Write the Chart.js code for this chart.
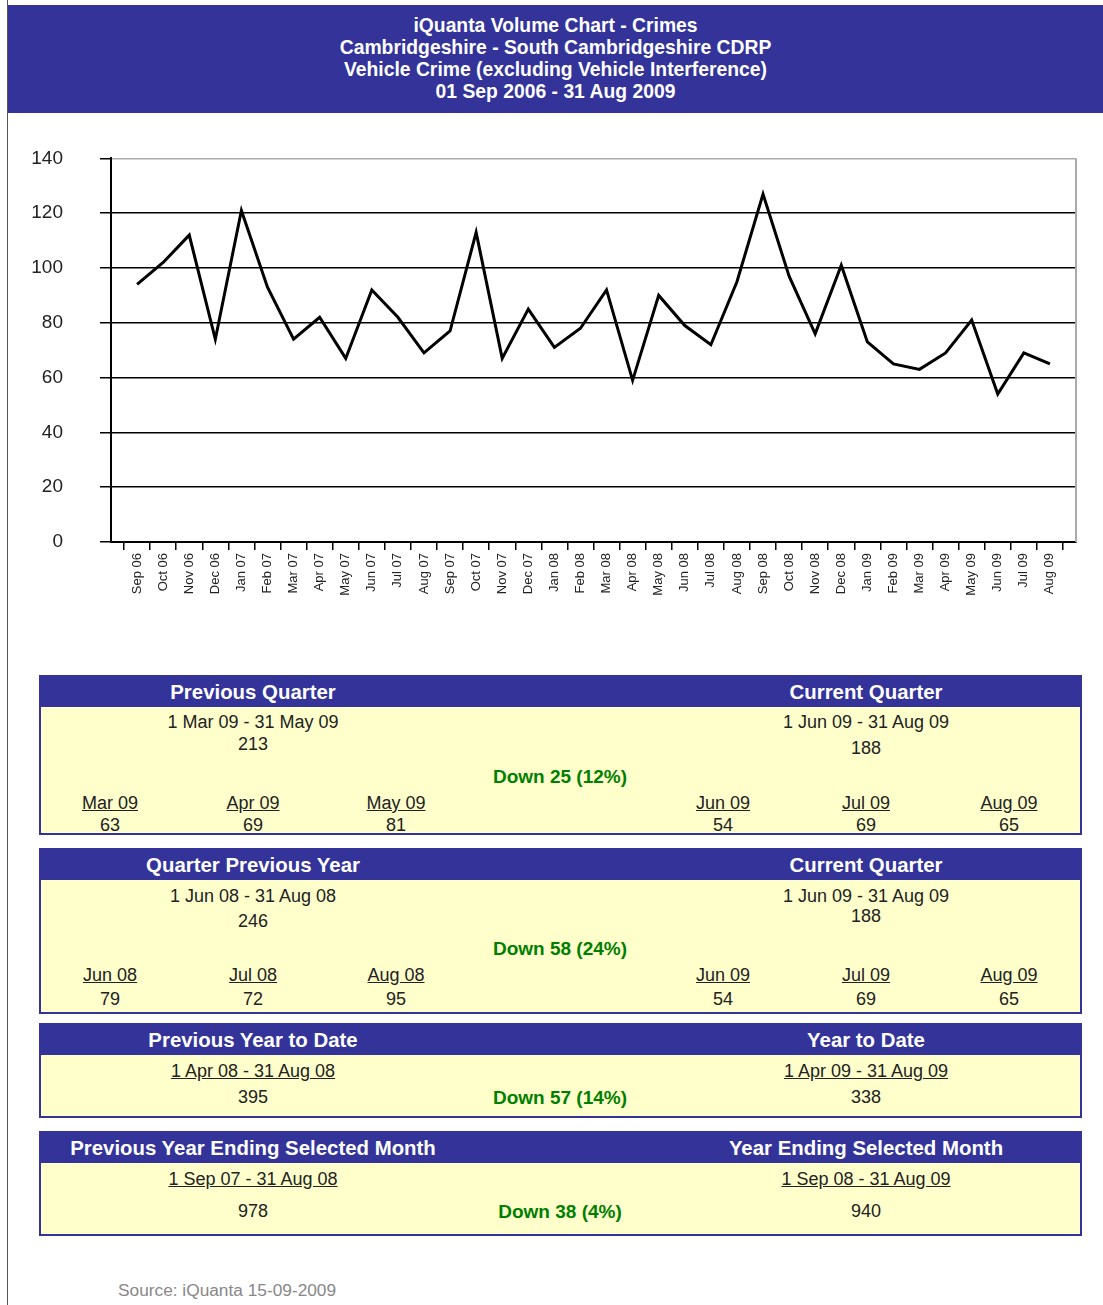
<!DOCTYPE html>
<html>
<head>
<meta charset="utf-8">
<script src="https://cdn.jsdelivr.net/npm/chart.js@4.4.0/dist/chart.umd.min.js"></script>
<style>
  body { margin: 0; background: #fff; font-family: "Liberation Sans", Arial, sans-serif; }
  #page { position: relative; width: 1103px; height: 1305px; overflow: hidden; }
  #edge { position: absolute; left: 7px; top: 0; width: 1px; height: 1305px; background: #555; }
  #banner {
    position: absolute; left: 8px; top: 5px; width: 1095px; height: 108px;
    background: #333399; color: #fff; text-align: center;
  }
  #banner .lines {
    margin-top: 9px; transform: scaleX(0.92); transform-origin: 50% 0;
    font-family: "Liberation Sans", Arial, sans-serif;
    font-weight: bold; font-size: 21px; line-height: 22px;
  }
  #chartBox { position: absolute; left: 20px; top: 110px; width: 1080px; height: 510px; }
  .panel { position: absolute; left: 39px; width: 1039px; border: 2px solid #333399; background: #ffffcc; }
  .panel .head { position: absolute; left: 0; top: 0; right: 0; height: 30px; background: #333399; }
  .txt { position: absolute; transform: translateX(-50%); white-space: nowrap; line-height: 22px; font-size: 18px; color: #222; }
  .txt.h { color: #fff; font-weight: bold; font-size: 20.4px; }
  .txt.u { text-decoration: underline; }
  .txt.down { color: #008000; font-weight: bold; font-size: 19px; }
  .txt.src { color: #888; font-size: 17.3px; transform: none; }
</style>
</head>
<body>
<div id="page">
  <div id="edge"></div>
  <div id="banner">
    <div class="lines">
      <div>iQuanta Volume Chart - Crimes</div>
      <div>Cambridgeshire - South Cambridgeshire CDRP</div>
      <div>Vehicle Crime (excluding Vehicle Interference)</div>
      <div>01 Sep 2006 - 31 Aug 2009</div>
    </div>
  </div>
  <div id="chartBox"><canvas id="crimeChart"></canvas></div>
</div>
<script>
// monthly counts, Sep 06 - Aug 09
const months = ['Sep 06', 'Oct 06', 'Nov 06', 'Dec 06', 'Jan 07', 'Feb 07', 'Mar 07', 'Apr 07', 'May 07', 'Jun 07', 'Jul 07', 'Aug 07',
                'Sep 07', 'Oct 07', 'Nov 07', 'Dec 07', 'Jan 08', 'Feb 08', 'Mar 08', 'Apr 08', 'May 08', 'Jun 08', 'Jul 08', 'Aug 08',
                'Sep 08', 'Oct 08', 'Nov 08', 'Dec 08', 'Jan 09', 'Feb 09', 'Mar 09', 'Apr 09', 'May 09', 'Jun 09', 'Jul 09', 'Aug 09'];
const crimes = [94, 102, 112, 74, 121, 93, 74, 82, 67, 92, 82, 69,
                77, 113, 67, 85, 71, 78, 92, 59, 90, 79, 72, 95,
                127, 97, 76, 101, 73, 65, 63, 69, 81, 54, 69, 65];
const yTicks = [0, 20, 40, 60, 80, 100, 120, 140];

// comparison panels: titles, date ranges and month index spans [from, to)
const panelTitles = [
    ['Previous Quarter', 'Current Quarter'],
    ['Quarter Previous Year', 'Current Quarter'],
    ['Previous Year to Date', 'Year to Date'],
    ['Previous Year Ending Selected Month', 'Year Ending Selected Month']
];
const panelRanges = [
    ['1 Mar 09 - 31 May 09', '1 Jun 09 - 31 Aug 09'],
    ['1 Jun 08 - 31 Aug 08', '1 Jun 09 - 31 Aug 09'],
    ['1 Apr 08 - 31 Aug 08', '1 Apr 09 - 31 Aug 09'],
    ['1 Sep 07 - 31 Aug 08', '1 Sep 08 - 31 Aug 09']
];
const panelSpans = [
    [[30, 33], [33, 36]],
    [[21, 24], [33, 36]],
    [[19, 24], [31, 36]],
    [[12, 24], [24, 36]]
];

const page = document.getElementById('page');

function put(parent, x, y, text, cls) {
    const d = document.createElement('div');
    d.className = 'txt ' + (cls || '');
    d.style.left = x + 'px';
    d.style.top = (y - 11) + 'px';
    d.textContent = text;
    parent.appendChild(d);
}

function sum(span) {
    return crimes.slice(span[0], span[1]).reduce((a, b) => a + b, 0);
}

// panel geometry (page coords)
const panelTops = [675, 848, 1023, 1131];
const panelHeights = [156, 162, 91, 101];
const rowY = [
    { head: 692, range: [722, 722], total: [744, 748], down: 777, mon: 803, val: 825, rangeU: false },
    { head: 865, range: [896, 896], total: [921, 916], down: 949, mon: 975, val: 999, rangeU: false },
    { head: 1040, range: [1071, 1071], total: [1097, 1097], down: 1098, rangeU: true },
    { head: 1148, range: [1179, 1179], total: [1211, 1211], down: 1212, rangeU: true }
];
const colX = [253, 866];
const monX = [[110, 253, 396], [723, 866, 1009]];

panelTitles.forEach(function(titles, i) {
    const box = document.createElement('div');
    box.className = 'panel';
    box.style.top = panelTops[i] + 'px';
    box.style.height = panelHeights[i] + 'px';
    const head = document.createElement('div');
    head.className = 'head';
    box.appendChild(head);
    page.appendChild(box);

    const r = rowY[i];
    const totals = panelSpans[i].map(sum);
    [0, 1].forEach(function(side) {
        put(page, colX[side], r.head, titles[side], 'h');
        put(page, colX[side], r.range[side], panelRanges[i][side], r.rangeU ? 'u' : '');
        put(page, colX[side], r.total[side], String(totals[side]));
        if (r.mon) {
            for (let k = 0; k < 3; k++) {
                const idx = panelSpans[i][side][0] + k;
                put(page, monX[side][k], r.mon, months[idx], 'u');
                put(page, monX[side][k], r.val, String(crimes[idx]));
            }
        }
    });
    const diff = totals[1] - totals[0];
    const pct = Math.round(Math.abs(diff) / totals[0] * 100);
    put(page, 560, r.down, (diff < 0 ? 'Down ' : 'Up ') + Math.abs(diff) + ' (' + pct + '%)', 'down');
});

put(page, 118, 1290, 'Source: iQuanta 15-09-2009', 'src');

// gray frame on the right edge of the plot
const rightEdge = {
    id: 'rightEdge',
    afterDraw(chart) {
        const a = chart.chartArea;
        const c = chart.ctx;
        c.save();
        c.strokeStyle = '#aaa';
        c.lineWidth = 2;
        c.beginPath();
        c.moveTo(a.right, a.top);
        c.lineTo(a.right, a.bottom);
        c.stroke();
        c.restore();
    }
};

const ctx = document.getElementById('crimeChart').getContext('2d');
new Chart(ctx, {
    type: 'line',
    data: {
        datasets: [{
            data: crimes.map((v, i) => ({ x: i + 1, y: v })),
            borderColor: '#000',
            borderWidth: 3,
            pointRadius: 0,
            tension: 0,
            fill: false
        }]
    },
    options: {
        responsive: true,
        maintainAspectRatio: false,
        animation: false,
        layout: { padding: { top: 0, right: 24, left: 0, bottom: 0 } },
        plugins: {
            legend: { display: false },
            tooltip: { enabled: false }
        },
        scales: {
            x: {
                type: 'linear',
                min: 0,
                max: months.length + 1,
                afterBuildTicks: function(scale) {
                    scale.ticks = months.map((m, i) => ({ value: i + 1 }));
                },
                afterFit: function(scale) { scale.height = 78; },
                ticks: {
                    autoSkip: false,
                    minRotation: 90,
                    maxRotation: 90,
                    padding: 3,
                    color: '#222',
                    font: { family: 'Liberation Sans, Arial', size: 13 },
                    callback: v => months[v - 1]
                },
                grid: { offset: true, drawOnChartArea: false, tickLength: 8, color: '#000', lineWidth: 1.5 },
                border: { color: '#000', width: 2 }
            },
            y: {
                min: 0,
                max: 140,
                afterBuildTicks: function(scale) {
                    scale.ticks = yTicks.map(v => ({ value: v }));
                },
                afterFit: function(scale) { scale.width = 91; },
                ticks: {
                    padding: 37,
                    color: '#222',
                    font: { family: 'Liberation Sans, Arial', size: 19 }
                },
                grid: {
                    color: c => c.tick && c.tick.value === 140 ? '#aaa' : '#000',
                    tickColor: '#000',
                    lineWidth: 1.5,
                    tickLength: 11
                },
                border: { color: '#000', width: 2 }
            }
        }
    },
    plugins: [rightEdge]
});
</script>
</body>
</html>
